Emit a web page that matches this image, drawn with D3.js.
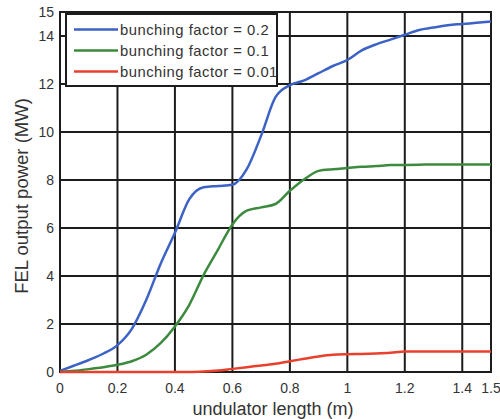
<!DOCTYPE html>
<html>
<head>
<meta charset="utf-8">
<script src="https://cdn.jsdelivr.net/npm/d3@7"></script>
<style>
  body { margin: 0; background: #fff; }
  svg { display: block; font-family: "Liberation Sans", Arial, Helvetica, sans-serif; }
</style>
</head>
<body>
<svg id="chart" width="500" height="419"></svg>
<script>
// undulator length (m)
const lengths = [0, 0.05, 0.1, 0.15, 0.2, 0.25, 0.3, 0.35, 0.4, 0.45, 0.5, 0.55, 0.6, 0.65, 0.7, 0.75,
  0.8, 0.85, 0.9, 0.95, 1.0, 1.05, 1.1, 1.15, 1.2, 1.25, 1.3, 1.35, 1.4, 1.45, 1.5]

// FEL output power (MW)
const power02 = [0.05, 0.27, 0.5, 0.76, 1.12, 1.8, 3.0, 4.5, 5.8, 7.2, 7.7, 7.75, 7.8, 8.45, 9.85, 11.45,
  11.95, 12.15, 12.45, 12.75, 13.0, 13.4, 13.65, 13.85, 14.05, 14.25, 14.35, 14.45, 14.5, 14.55, 14.6]
const power01 = [0, 0.05, 0.12, 0.2, 0.3, 0.45, 0.72, 1.2, 1.9, 2.8, 4.05, 5.1, 6.15, 6.72, 6.86, 7.0,
  7.55, 8.03, 8.38, 8.45, 8.5, 8.55, 8.58, 8.62, 8.63, 8.64, 8.65, 8.65, 8.65, 8.65, 8.65]
const power001 = [0, 0, 0, 0, 0, 0, 0, 0, 0, 0, 0.02, 0.06, 0.13, 0.2, 0.27, 0.34,
  0.45, 0.55, 0.65, 0.72, 0.74, 0.75, 0.77, 0.8, 0.85, 0.85, 0.85, 0.85, 0.85, 0.85, 0.85]

const seriesNames = ["bunching factor = 0.2", "bunching factor = 0.1", "bunching factor = 0.01"]
const seriesColors = ["#3d62c6", "#3b8a3e", "#e8402c"]
const xTicks = [0, 0.2, 0.4, 0.6, 0.8, 1, 1.2, 1.4, 1.5]
const yTicks = [0, 2, 4, 6, 8, 10, 12, 14, 15]

const svg = d3.select("#chart")

x = d3.scaleLinear().domain([0, 1.5]).range([60, 491])
y = d3.scaleLinear().domain([0, 15]).range([372, 12])

// grid
svg.append("g")
    .attr("stroke", "#1c1c1c")
    .attr("stroke-width", 2)
    .call(g => g.selectAll(".vx")
        .data(xTicks)
        .join("line")
        .attr("class", "vx")
        .attr("x1", d => x(d)).attr("x2", d => x(d))
        .attr("y1", y(0)).attr("y2", y(15)))
    .call(g => g.selectAll(".hy")
        .data(yTicks)
        .join("line")
        .attr("class", "hy")
        .attr("x1", x(0)).attr("x2", x(1.5))
        .attr("y1", d => y(d)).attr("y2", d => y(d)))

// frame
svg.append("rect")
    .attr("x", x(0)).attr("y", y(15))
    .attr("width", x(1.5) - x(0)).attr("height", y(0) - y(15))
    .attr("fill", "none")
    .attr("stroke", "#1c1c1c")
    .attr("stroke-width", 2)

// tick labels
svg.append("g")
    .attr("font-size", 14)
    .attr("fill", "#333")
    .attr("text-anchor", "middle")
    .selectAll("text")
    .data(xTicks)
    .join("text")
    .attr("x", d => x(d))
    .attr("y", 393)
    .text(d => d3.format("~g")(d))

svg.append("g")
    .attr("font-size", 14)
    .attr("fill", "#333")
    .attr("text-anchor", "end")
    .selectAll("text")
    .data(yTicks)
    .join("text")
    .attr("x", 54)
    .attr("y", d => y(d) + 5)
    .text(d => d)

// axis titles
svg.append("text")
    .attr("x", 273)
    .attr("y", 415)
    .attr("text-anchor", "middle")
    .attr("font-size", 18)
    .attr("fill", "#333")
    .text("undulator length (m)")

svg.append("text")
    .attr("transform", "translate(28,196) rotate(-90)")
    .attr("text-anchor", "middle")
    .attr("font-size", 18.5)
    .attr("fill", "#333")
    .text("FEL output power (MW)")

// curves
const line = d3.line()
    .x((d, i) => x(lengths[i]))
    .y(d => y(d))
    .curve(d3.curveMonotoneX)

svg.append("g")
    .attr("fill", "none")
    .attr("stroke-width", 2.5)
    .selectAll("path")
    .data([power02, power01, power001])
    .join("path")
    .attr("stroke", (d, i) => seriesColors[i])
    .attr("d", line)

// legend
const legend = svg.append("g")

legend.append("rect")
    .attr("x", 66).attr("y", 14)
    .attr("width", 211).attr("height", 72)
    .attr("fill", "#fff")
    .attr("stroke", "#1c1c1c")
    .attr("stroke-width", 2)

legend.selectAll(".item")
    .data(seriesNames)
    .join("g")
    .attr("transform", (d, i) => `translate(0,${29.5 + i * 21})`)
    .call(g => g.append("line")
        .attr("x1", 74).attr("x2", 118)
        .attr("stroke", (d, i) => seriesColors[i])
        .attr("stroke-width", 2.5))
    .call(g => g.append("text")
        .attr("x", 120)
        .attr("y", 5.5)
        .attr("font-size", 14.8)
        .attr("letter-spacing", 0.5)
        .attr("fill", "#333")
        .text(d => d))
</script>
</body>
</html>
